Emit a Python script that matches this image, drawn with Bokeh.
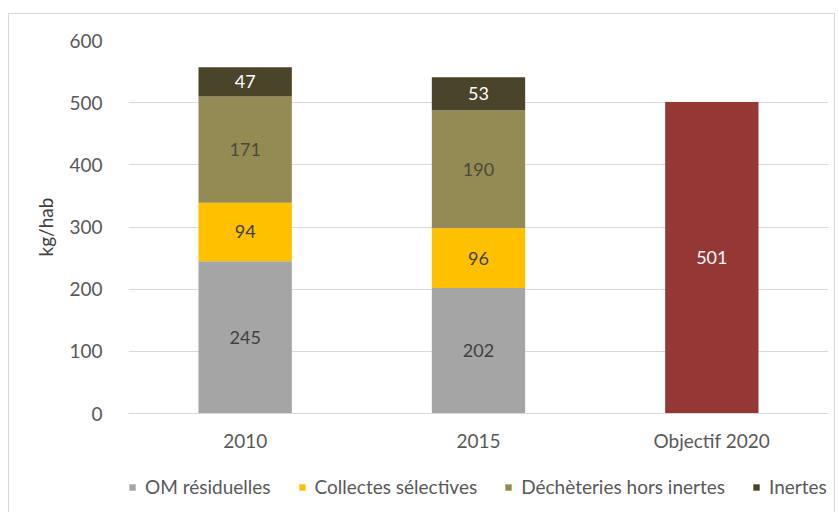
from bokeh.plotting import figure
from bokeh.layouts import column
from bokeh.models import ColumnDataSource, Legend, LegendItem, FactorRange, Range1d, SingleIntervalTicker
from bokeh.core.properties import value
from bokeh.embed import file_html
from bokeh.resources import INLINE

categories = ["2010", "2015", "Objectif 2020"]
years = ["2010", "2015"]
series = ["OM résiduelles", "Collectes sélectives", "Déchèteries hors inertes", "Inertes"]
om = [245, 202]
collectes = [94, 96]
decheteries = [171, 190]
inertes = [47, 53]
objectif_cat = ["Objectif 2020"]
objectif = [501]
colors = ["#a5a5a5", "#ffc000", "#948a54", "#4a452a"]
label_colors = ["#404040", "#404040", "#4a4a3a", "#ffffff"]
obj_color = "#953735"
FONT = "Lato"

p = figure(x_range=FactorRange(*categories), y_range=(0, 600),
           frame_width=700, frame_height=373,
           output_backend="svg", toolbar_location=None,
           min_border_left=119, min_border_right=6, min_border_top=26, min_border_bottom=0)
p.outline_line_color = None
p.background_fill_color = "white"
p.border_fill_color = "white"

src = ColumnDataSource(dict(cat=years, om=om, collectes=collectes, decheteries=decheteries, inertes=inertes))
keys = ["om", "collectes", "decheteries", "inertes"]
p.vbar_stack(keys, x="cat", width=0.4, source=src, color=colors, line_color=None)

osrc = ColumnDataSource(dict(cat=objectif_cat, val=objectif))
p.vbar(x="cat", top="val", width=0.4, source=osrc, color=obj_color, line_color=None)

# value labels
vals = [om, collectes, decheteries, inertes]
bottoms = [0, 0]
for k, v in enumerate(vals):
    ys = [b + x / 2 for b, x in zip(bottoms, v)]
    p.text(x=years, y=ys, text=[str(x) for x in v], text_align="center", text_baseline="middle",
           text_font=value(FONT), text_font_size="18px", text_color=label_colors[k])
    bottoms = [b + x for b, x in zip(bottoms, v)]
p.text(x=objectif_cat, y=[o / 2 for o in objectif], text=[str(o) for o in objectif],
       text_align="center", text_baseline="middle", text_font=value(FONT),
       text_font_size="18px", text_color="#ffffff")

# axes
p.yaxis.ticker = SingleIntervalTicker(interval=100)
p.yaxis.axis_line_color = None
p.yaxis.major_tick_line_color = None
p.yaxis.minor_tick_line_color = None
p.yaxis.major_tick_out = 0
p.yaxis.major_tick_in = 0
p.yaxis.major_label_standoff = 22
p.yaxis.major_label_text_font = FONT
p.yaxis.major_label_text_font_size = "19px"
p.yaxis.major_label_text_color = "#595959"
p.yaxis.axis_label = "kg/hab"
p.yaxis.axis_label_text_font = FONT
p.yaxis.axis_label_text_font_size = "19px"
p.yaxis.axis_label_text_font_style = "normal"
p.yaxis.axis_label_text_color = "#404040"
p.yaxis.axis_label_standoff = 9

p.xaxis.axis_line_color = "#d9d9d9"
p.xaxis.major_tick_line_color = None
p.xaxis.minor_tick_line_color = None
p.xaxis.major_tick_out = 0
p.xaxis.major_tick_in = 0
p.xaxis.major_label_standoff = 15
p.xaxis.major_label_text_font = FONT
p.xaxis.major_label_text_font_size = "19px"
p.xaxis.major_label_text_color = "#595959"

p.xgrid.grid_line_color = None
p.ygrid.grid_line_color = "#d9d9d9"

# legend strip below the chart (hidden copies of the series supply the legend glyphs)
q = figure(frame_width=700, frame_height=59, output_backend="svg", toolbar_location=None,
           x_range=FactorRange(*categories), y_range=Range1d(0, 600),
           x_axis_type=None, y_axis_type=None,
           min_border_left=119, min_border_right=6, min_border_top=0, min_border_bottom=0)
q.outline_line_color = None
q.xgrid.grid_line_color = None
q.ygrid.grid_line_color = None
q.border_fill_color = "white"
leg_renderers = q.vbar_stack(keys, x="cat", width=0.4, source=src, color=colors, line_color=None)
for r in leg_renderers:
    r.visible = False
items = [LegendItem(label=s, renderers=[r]) for s, r in zip(series, leg_renderers)]
legend = Legend(items=items, orientation="horizontal", location=(0, 15),
                glyph_width=8, glyph_height=8, label_standoff=9, spacing=27,
                label_text_font=FONT, label_text_font_size="19px", label_text_color="#595959",
                inactive_fill_alpha=0, click_policy="none",
                border_line_color=None, background_fill_alpha=0, padding=0, margin=0)
q.add_layout(legend, "center")

layout = column(p, q, spacing=0)
layout.margin = (13, 0, 0, 8)
layout.styles = {"border": "1px solid #d9d9d9", "box-sizing": "border-box", "background": "white"}

open("out.html", "w").write(file_html(layout, INLINE))
